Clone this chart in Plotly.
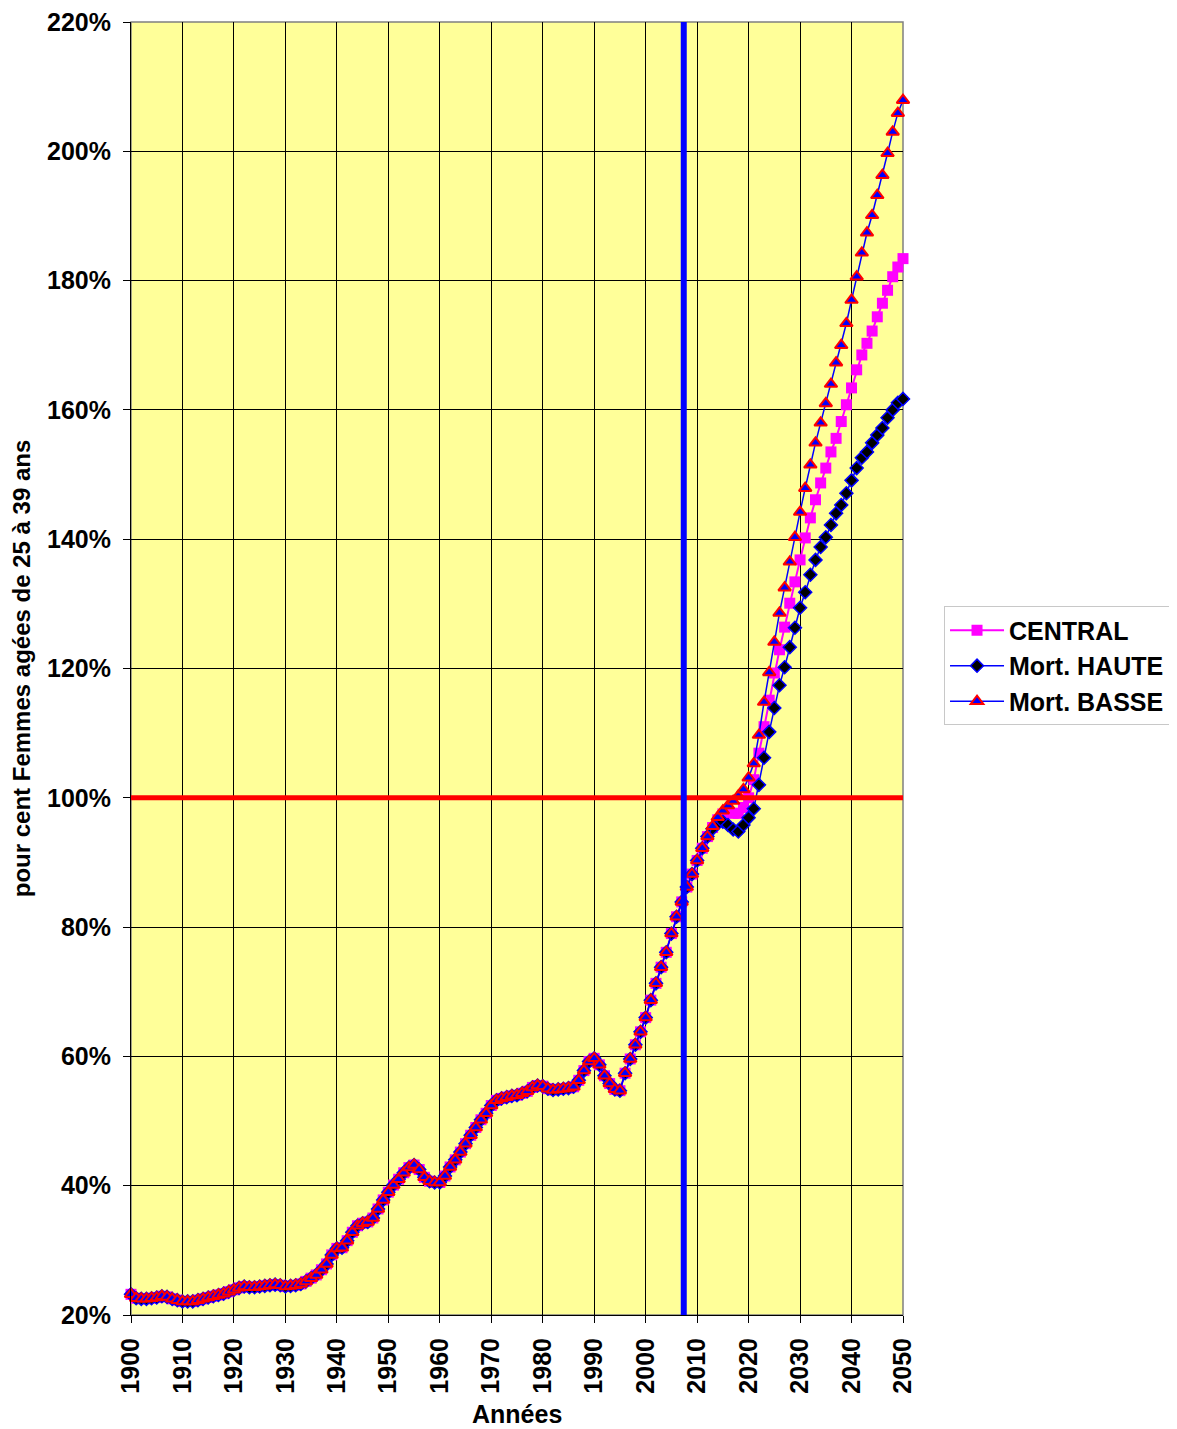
import plotly.graph_objects as go

# années 1900-2050
years = list(range(1900, 2051))

# partie historique commune (1900-2012), en %
hist = [23.2, 22.6, 22.5, 22.5, 22.6, 22.7, 22.9, 22.8, 22.5, 22.3,
        22.1, 22.1, 22.1, 22.3, 22.5, 22.7, 22.9, 23.1, 23.3, 23.6,
        23.9, 24.2, 24.4, 24.3, 24.3, 24.4, 24.5, 24.6, 24.7, 24.6,
        24.4, 24.5, 24.6, 24.8, 25.2, 25.7, 26.2, 27.0, 27.9, 29.3,
        30.3, 30.4, 31.5, 32.8, 33.8, 34.2, 34.4, 35.0, 36.4, 37.8,
        39.0, 40.1, 41.0, 42.0, 42.8, 43.2, 42.5, 41.3, 40.7, 40.5,
        40.5, 41.5, 42.9, 44.0, 45.2, 46.5, 47.8, 49.0, 50.2, 51.2,
        52.4, 53.2, 53.5, 53.7, 53.9, 54.0, 54.3, 54.6, 55.2, 55.5,
        55.4, 55.0, 54.8, 54.9, 55.0, 55.1, 55.3, 56.3, 57.8, 59.2,
        59.7, 58.7, 57.0, 55.8, 54.9, 54.7, 57.4, 59.6, 61.8, 63.8,
        66.0, 68.7, 71.3, 73.8, 76.1, 79.0, 81.6, 83.9, 86.2, 88.2,
        90.3, 92.2, 94.0]

# projections 2013-2050
central_proj = [95.4, 96.6, 97.5, 97.9, 97.6, 97.6, 98.5, 100.0, 102.8, 106.9,
                111.0, 115.1, 119.3, 122.9, 126.4, 130.1, 133.4, 136.8, 140.2, 143.3,
                146.1, 148.7, 151.0, 153.5, 155.6, 158.2, 160.8, 163.4, 166.2, 168.5,
                170.3, 172.2, 174.4, 176.5, 178.5, 180.6, 182.1, 183.4]
haute_proj = [95.2, 96.0, 96.3, 95.8, 95.1, 94.8, 95.8, 96.9, 98.3, 102.0,
              106.2, 110.2, 113.9, 117.4, 120.2, 123.3, 126.3, 129.4, 131.8, 134.5,
              136.8, 138.8, 140.3, 142.2, 144.0, 145.3, 147.1, 149.1, 151.0, 152.6,
              153.5, 154.9, 156.1, 157.2, 158.8, 160.0, 161.1, 161.7]
basse_proj = [95.6, 97.0, 98.0, 98.8, 99.5, 100.3, 101.3, 103.1, 105.3, 109.7,
              114.8, 119.4, 124.1, 128.6, 132.5, 136.5, 140.3, 144.2, 147.9, 151.5,
              154.9, 158.0, 161.0, 164.0, 167.3, 170.0, 173.4, 177.0, 180.6, 184.3,
              187.4, 190.1, 193.2, 196.3, 199.7, 203.0, 205.9, 207.9]

central = hist + central_proj
haute = hist + haute_proj
basse = hist + basse_proj

annee_actuelle = 2007.4
seuil = 100

fig = go.Figure()
fig.add_trace(go.Scatter(x=years, y=central, name='CENTRAL', mode='lines+markers',
                         line=dict(color='#FF00FF', width=2),
                         marker=dict(symbol='square', size=11, color='#FF00FF'),
                         cliponaxis=False))
fig.add_trace(go.Scatter(x=years, y=haute, name='Mort. HAUTE', mode='lines+markers',
                         line=dict(color='#0000FF', width=1.5),
                         marker=dict(symbol='diamond', size=10, color='black',
                                     line=dict(color='#0000FF', width=1.5)),
                         cliponaxis=False))
fig.add_trace(go.Scatter(x=years, y=basse, name='Mort. BASSE', mode='lines+markers',
                         line=dict(color='#0000FF', width=1.5),
                         marker=dict(symbol='triangle-up', size=11, color='#0000FF',
                                     line=dict(color='#FF0000', width=2)),
                         cliponaxis=False))

fig.add_shape(type='line', x0=1900, x1=2050, y0=seuil, y1=seuil,
              line=dict(color='#FF0000', width=5), layer='above')
fig.add_shape(type='line', x0=annee_actuelle, x1=annee_actuelle, y0=0, y1=1, yref='paper',
              line=dict(color='#0000FF', width=6), layer='above')

fig.update_layout(
    width=1169, height=1421,
    margin=dict(l=123, r=274, t=14, b=114),
    paper_bgcolor='white',
    plot_bgcolor='#FFFF99',
    font=dict(family='Liberation Sans, Arial, sans-serif', size=24, color='black', weight='bold'),
    showlegend=True,
    legend=dict(xref='container', yref='container', x=0.8007, y=0.537,
                xanchor='left', yanchor='middle',
                bgcolor='white', bordercolor='#C8C8C8', borderwidth=1,
                font=dict(size=25), tracegroupgap=0, itemwidth=54),
    xaxis=dict(range=[1900, 2050], dtick=10, tick0=1900, tickangle=-90,
               automargin=False, ticklabelstandoff=5, ticklabeloverflow='allow',
               showgrid=True, gridcolor='black', gridwidth=1,
               ticks='outside', ticklen=7, tickcolor='black',
               showline=True, linecolor='black', linewidth=1, mirror=False,
               zeroline=False, tickfont=dict(size=25)),
    yaxis=dict(range=[20, 220], dtick=20, tick0=20, ticksuffix='%',
               automargin=False, ticklabelstandoff=7, ticklabeloverflow='allow',
               showgrid=True, gridcolor='black', gridwidth=1,
               ticks='outside', ticklen=7, tickcolor='black',
               showline=True, linecolor='black', linewidth=1,
               zeroline=False, tickfont=dict(size=25),
               title=dict(text='pour cent Femmes agées de 25 à 39 ans', standoff=12,
                          font=dict(size=24))),
)
# titre de l'axe des x
fig.add_annotation(text='Années', xref='paper', yref='paper', x=0.5, y=-0.0765,
                   xanchor='center', yanchor='middle', showarrow=False,
                   font=dict(size=25))
# bordure grise du cadre
fig.add_shape(type='rect', xref='paper', yref='paper', x0=0, x1=1, y0=0, y1=1,
              line=dict(color='#808080', width=1.5), layer='below')

fig.write_html("out.html")
